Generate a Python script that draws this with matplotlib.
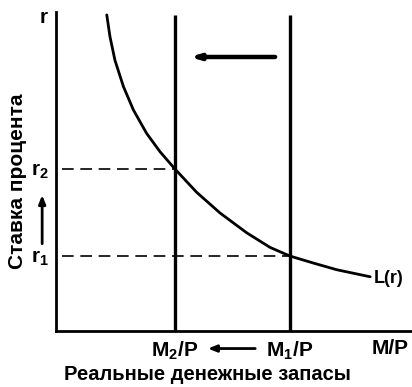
import matplotlib
matplotlib.use("Agg")
import matplotlib.pyplot as plt

plt.rcParams['font.family'] = ['Liberation Sans', 'DejaVu Sans']
plt.rcParams['mathtext.fontset'] = 'custom'
plt.rcParams['mathtext.rm'] = 'Liberation Sans'
plt.rcParams['mathtext.bf'] = 'Liberation Sans:bold'
plt.rcParams['mathtext.default'] = 'bf'

# Money demand curve L(r): real balances vs interest rate
curve_x = [1.43, 1.52, 1.66, 1.90, 2.18, 2.55, 2.93, 3.35, 3.96, 4.62, 5.37, 6.03, 6.59, 7.25, 7.91, 8.85]
curve_y = [9.91, 9.23, 8.49, 7.66, 6.93, 6.20, 5.62, 5.08, 4.35, 3.70, 3.08, 2.62, 2.35, 2.13, 1.92, 1.70]

# Supply of real balances (M2/P, M1/P) and interest rates (r2, r1)
supply_levels = [3.35, 6.59]
rate_levels = [5.08, 2.35]
supply_top = 9.9

x_tick_pos = [3.35, 6.59, 9.42]
x_tick_labels = ['M$_2$/P', 'M$_1$/P', 'M/P']
y_tick_pos = [5.08, 2.35]
y_tick_labels = ['r$_2$', 'r$_1$']

fig = plt.figure(figsize=(4.12, 3.87), dpi=100)
ax = fig.add_axes([56/412, (387-331)/387, (411-56)/412, (331-12)/387])
ax.set_xlim(0, 10)
ax.set_ylim(0, 10)
for s in ['top', 'right']:
    ax.spines[s].set_visible(False)
for s in ['left', 'bottom']:
    ax.spines[s].set_linewidth(2)
    ax.spines[s].set_color('black')

# vertical supply lines
for m in supply_levels:
    ax.plot([m, m], [0, supply_top], color='black', lw=2.4, solid_capstyle='butt')

# dashed rate lines
for m, r in zip(supply_levels, rate_levels):
    ax.plot([0.17, m], [r, r], color='black', lw=1.2, dashes=(7, 4))

# demand curve
ax.plot(curve_x, curve_y, color='black', lw=2.0, solid_capstyle='round', solid_joinstyle='round')
ax.text(8.95, 1.66, 'L(r)', fontsize=13, va='center', ha='left', fontweight='bold')

# ticks
ax.set_xticks(x_tick_pos)
ax.set_xticklabels(x_tick_labels, fontsize=15, fontweight='bold')
ax.set_yticks(y_tick_pos)
ax.set_yticklabels(y_tick_labels, fontsize=15, fontweight='bold')
ax.tick_params(axis='x', length=0, pad=6)
ax.tick_params(axis='y', length=0, pad=5)

ax.text(-0.35, 9.84, 'r', fontsize=15, ha='center', va='center', fontweight='bold')

# arrows
ax.annotate('', xy=(3.69, 8.59), xytext=(6.25, 8.59),
            arrowprops=dict(arrowstyle='-|>,head_length=0.5,head_width=0.15', lw=3.2, color='black'))
ax.annotate('', xy=(4.20, -0.55), xytext=(5.69, -0.55), annotation_clip=False,
            arrowprops=dict(arrowstyle='-|>,head_length=0.5,head_width=0.2', lw=2, color='black'))
ax.annotate('', xy=(-0.39, 4.35), xytext=(-0.39, 2.65), annotation_clip=False,
            arrowprops=dict(arrowstyle='-|>,head_length=0.5,head_width=0.2', lw=2, color='black'))

fig.text(207/412, 1 - 375/387, 'Реальные денежные запасы', fontsize=14.5, fontweight='bold',
         ha='center', va='center')
fig.text(18/412, 1 - 181/387, 'Ставка процента', fontsize=15, fontweight='bold',
         ha='center', va='center', rotation=90)

fig.savefig('out.png', dpi=100)
